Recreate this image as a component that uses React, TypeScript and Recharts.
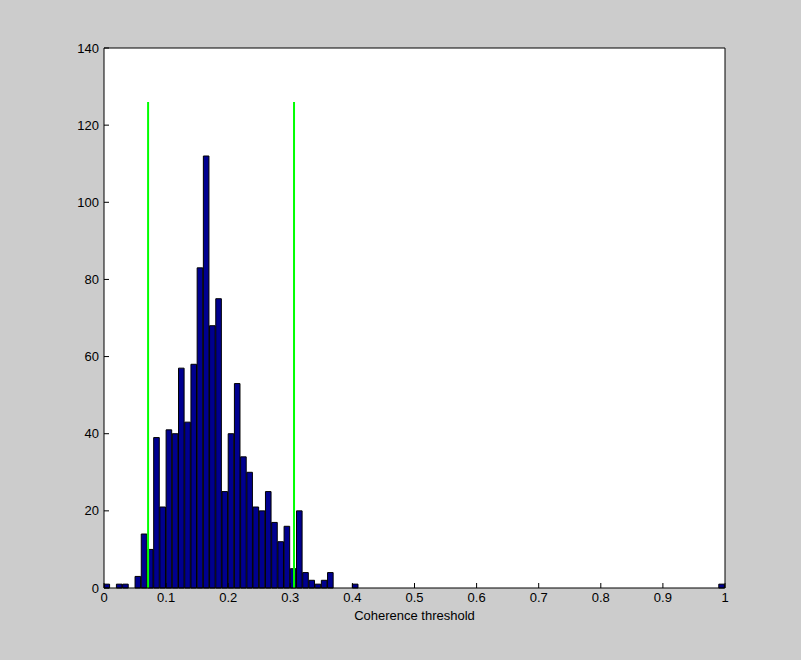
import { ComposedChart, Bar, XAxis, YAxis, CartesianGrid, ReferenceLine, Label } from "recharts"

// histogram counts, 100 bins of width 0.01 from 0 to 1
const counts = [
  1, 0, 1, 1, 0, 3, 14, 10, 39, 21,
  41, 40, 57, 43, 58, 83, 112, 68, 75, 25,
  40, 53, 34, 30, 21, 20, 25, 17, 12, 16,
  5, 20, 4, 2, 1, 2, 4, 0, 0, 0,
  1, 0, 0, 0, 0, 0, 0, 0, 0, 0,
  0, 0, 0, 0, 0, 0, 0, 0, 0, 0,
  0, 0, 0, 0, 0, 0, 0, 0, 0, 0,
  0, 0, 0, 0, 0, 0, 0, 0, 0, 0,
  0, 0, 0, 0, 0, 0, 0, 0, 0, 0,
  0, 0, 0, 0, 0, 0, 0, 0, 0, 1,
]
const binWidth = 0.01

// green threshold markers
const thresholds = [0.071, 0.306]
const thresholdTop = 126

const xTicks = [0, 0.1, 0.2, 0.3, 0.4, 0.5, 0.6, 0.7, 0.8, 0.9, 1]
const yTicks = [0, 20, 40, 60, 80, 100, 120, 140]

const data = counts.map((c, i) => ({ x: (i + 0.5) * binWidth, count: c }))

const tickStyle = { fill: "#000", fontSize: 13, fontFamily: "Liberation Sans, Arial, sans-serif" }

export default function App() {
  return (
    <div style={{ position: "absolute", left: 0, top: 0, width: 801, height: 660, background: "#cccccc" }}>
      <ComposedChart width={801} height={660} data={data} margin={{ top: 0, right: 0, bottom: 0, left: 0 }}>
        <CartesianGrid horizontal={false} vertical={false} fill="#ffffff" />
        <XAxis
          dataKey="x"
          type="number"
          domain={[0, 1]}
          ticks={xTicks}
          tickFormatter={(v: number) => String(v)}
          height={72}
          stroke="#000"
          tickSize={-5}
          tickMargin={10}
          tick={tickStyle}
          allowDataOverflow
        >
          <Label value="Coherence threshold" position="insideTop" offset={23} style={{ ...tickStyle, fontSize: 13 }} />
        </XAxis>
        <XAxis
          xAxisId="top"
          orientation="top"
          type="number"
          domain={[0, 1]}
          ticks={xTicks}
          height={48}
          stroke="#000"
          tickSize={5}
          tick={false}
        />
        <YAxis
          type="number"
          domain={[0, 140]}
          ticks={yTicks}
          width={104}
          stroke="#000"
          tickSize={-5}
          tickMargin={10}
          tick={tickStyle}
        />
        <YAxis
          yAxisId="right"
          orientation="right"
          type="number"
          domain={[0, 140]}
          ticks={yTicks}
          width={76}
          stroke="#000"
          tickSize={5}
          tick={false}
        />
        <Bar dataKey="count" fill="#00008f" stroke="#000" strokeWidth={1} barSize={6.21} isAnimationActive={false} />
        {thresholds.map((t) => (
          <ReferenceLine
            key={t}
            segment={[{ x: t, y: 0 }, { x: t, y: thresholdTop }]}
            stroke="#00ff00"
            strokeWidth={2}
          />
        ))}
      </ComposedChart>
    </div>
  )
}
